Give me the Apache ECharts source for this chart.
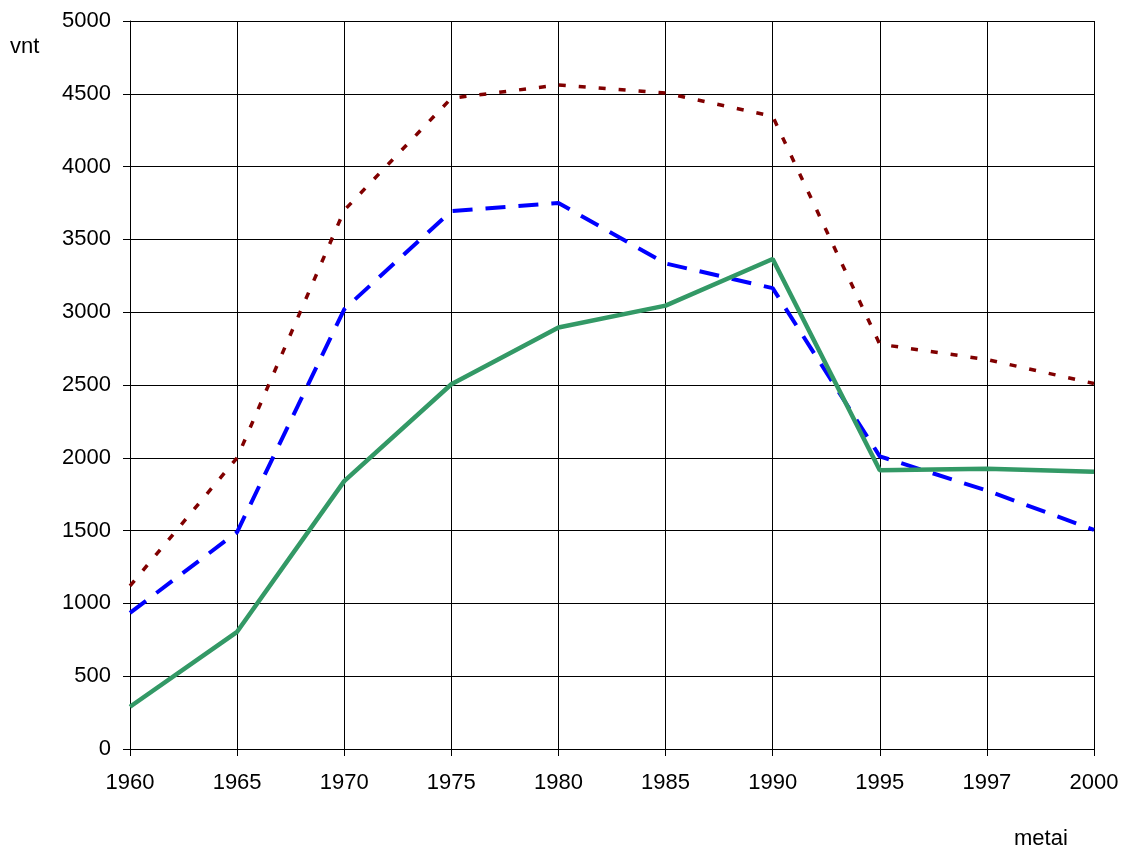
<!DOCTYPE html>
<html>
<head>
<meta charset="utf-8">
<script src="https://cdn.jsdelivr.net/npm/echarts@6/dist/echarts.min.js"></script>
<style>
  html, body { margin: 0; padding: 0; background: #fff; }
  #chart { width: 1123px; height: 847px; }
</style>
</head>
<body>
<div id="chart"></div>
<script>
// metai (x categories)
var years = ['1960', '1965', '1970', '1975', '1980', '1985', '1990', '1995', '1997', '2000'];
// dotted dark red line
var redSeries = [1120, 2000, 3700, 4470, 4560, 4505, 4345, 2780, 2675, 2510];
// dashed blue line
var blueSeries = [935, 1490, 3020, 3695, 3750, 3335, 3165, 2010, 1775, 1505];
// solid green line
var greenSeries = [290, 805, 1840, 2505, 2895, 3045, 3365, 1915, 1925, 1905];

var FONT = 'Liberation Sans, Arial, sans-serif';

var chart = echarts.init(document.getElementById('chart'), null, { renderer: 'canvas' });

var option = {
  backgroundColor: '#ffffff',
  animation: false,
  grid: {
    left: 130,
    right: 29,
    top: 21,
    bottom: 98,
    containLabel: false
  },
  xAxis: {
    type: 'category',
    boundaryGap: false,
    data: years,
    axisLine: { lineStyle: { color: '#000', width: 1 } },
    axisTick: { show: true, length: 7, lineStyle: { color: '#000' } },
    axisLabel: { color: '#000', fontSize: 22, fontFamily: FONT, margin: 23 },
    splitLine: { show: true, lineStyle: { color: '#000', width: 1 } }
  },
  yAxis: {
    type: 'value',
    min: 0,
    max: 5000,
    interval: 500,
    axisLine: { show: true, lineStyle: { color: '#000', width: 1 } },
    axisTick: { show: true, length: 7, lineStyle: { color: '#000' } },
    axisLabel: {
      color: '#000', fontSize: 22, fontFamily: FONT, margin: 19,
      formatter: function (v) { return String(v); }
    },
    splitLine: { show: true, lineStyle: { color: '#000', width: 1 } }
  },
  graphic: [
    {
      type: 'text',
      left: 10,
      top: 36,
      style: { text: 'vnt', fill: '#000', font: '22px ' + FONT }
    },
    {
      type: 'text',
      left: 1014,
      top: 828,
      style: { text: 'metai', fill: '#000', font: '22px ' + FONT }
    }
  ],
  series: [
    {
      name: 'red',
      type: 'line',
      data: redSeries,
      showSymbol: false,
      symbol: 'none',
      lineStyle: { color: '#800000', width: 3.5, type: [7, 13] },
      z: 3
    },
    {
      name: 'blue',
      type: 'line',
      data: blueSeries,
      showSymbol: false,
      symbol: 'none',
      lineStyle: { color: '#0000ff', width: 4, type: [20, 13] },
      z: 4
    },
    {
      name: 'green',
      type: 'line',
      data: greenSeries,
      showSymbol: false,
      symbol: 'none',
      lineStyle: { color: '#339966', width: 4.5 },
      z: 5
    }
  ]
};

chart.setOption(option);
</script>
</body>
</html>
